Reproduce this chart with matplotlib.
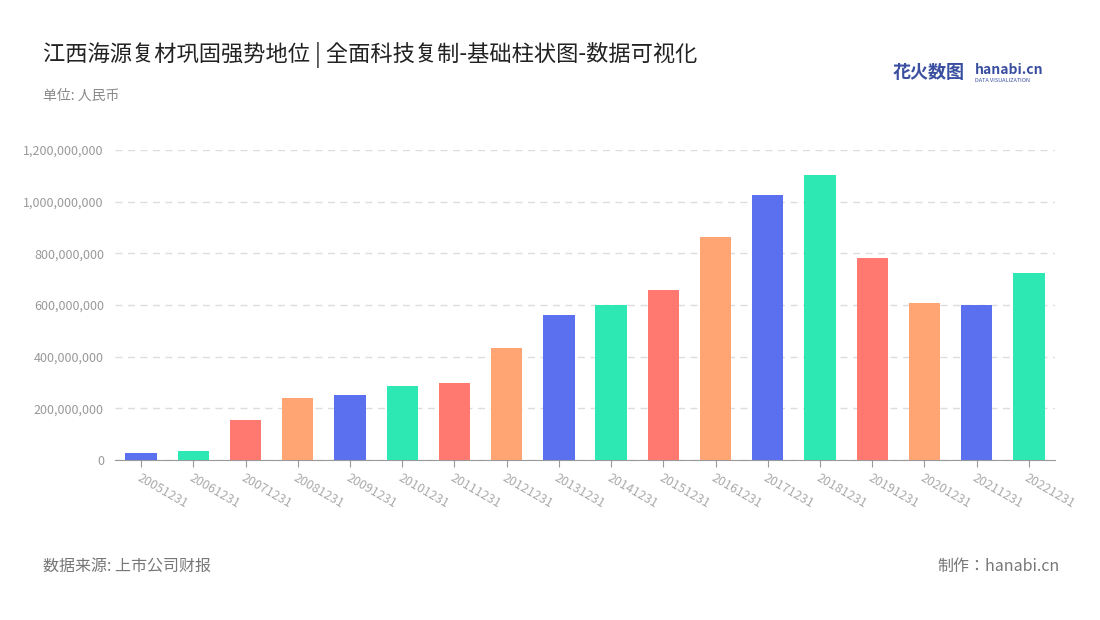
import matplotlib
matplotlib.use("Agg")
import matplotlib.pyplot as plt
from matplotlib import font_manager as fm
from matplotlib.ticker import FuncFormatter

cjk = None
for f in fm.findSystemFonts():
    n = f.lower()
    if "cjk" in n and ("sc" in n or "ttc" in n or "otc" in n):
        try:
            fm.fontManager.addfont(f)
        except Exception:
            pass
names = {e.name for e in fm.fontManager.ttflist}
for cand in ["Noto Sans CJK SC", "Noto Sans CJK JP", "Noto Sans SC", "WenQuanYi Zen Hei"]:
    if cand in names:
        cjk = cand
        break
plt.rcParams["font.family"] = ([cjk] if cjk else []) + ["DejaVu Sans"]

categories = ["20051231","20061231","20071231","20081231","20091231","20101231","20111231",
              "20121231","20131231","20141231","20151231","20161231","20171231","20181231",
              "20191231","20201231","20211231","20221231"]
values = [27e6, 35e6, 155e6, 240e6, 252e6, 287e6, 300e6, 433e6, 562e6, 600e6, 658e6,
          865e6, 1027e6, 1105e6, 782e6, 608e6, 600e6, 724e6]
palette = ["#5B70EE", "#2DE8B2", "#FF7971", "#FFA574"]

fig = plt.figure(figsize=(11, 6.2), dpi=100)
ax = fig.add_axes([115/1100, 1-460/620, 940/1100, 310/620])
x = list(range(len(categories)))
ax.bar(x, values, width=0.6, color=[palette[i % 4] for i in x], zorder=3)
ax.set_xlim(-0.5, len(categories)-0.5)
ax.set_ylim(0, 1.2e9)
ax.set_yticks([i*2e8 for i in range(7)])
ax.yaxis.set_major_formatter(FuncFormatter(lambda v, p: f"{int(v):,}"))
ax.grid(axis="y", color="#dddddd", linestyle=(0, (5, 4)), linewidth=1, zorder=0)
for s in ["top", "right", "left"]:
    ax.spines[s].set_visible(False)
ax.spines["bottom"].set_color("#999999")
ax.set_xticks(x)
ax.set_xticklabels(categories, rotation=-30, ha="left", rotation_mode="anchor")
ax.tick_params(axis="x", colors="#999999", labelcolor="#aaaaaa", labelsize=9, length=5)
ax.tick_params(axis="y", length=0, labelcolor="#999999", labelsize=9, pad=8)

fig.text(43/1100, 1-55/620, "江西海源复材巩固强势地位 | 全面科技复制-基础柱状图-数据可视化",
         fontsize=16, color="#222222", va="center")
fig.text(43/1100, 1-96/620, "单位: 人民币", fontsize=10, color="#888888", va="center")
fig.text(43/1100, 1-566/620, "数据来源: 上市公司财报", fontsize=11.5, color="#777777", va="center")
fig.text(1060/1100, 1-566/620, "制作：hanabi.cn", fontsize=11.5, color="#777777", va="center", ha="right")
fig.text(893/1100, 1-72/620, "花火数图", fontsize=13, color="#3a4fa0", va="center", weight="bold")
fig.text(975/1100, 1-70/620, "hanabi.cn", fontsize=10, color="#3a4fa0", va="center", weight="bold")
fig.text(975/1100, 1-81/620, "DATA VISUALIZATION", fontsize=4, color="#3a4fa0", va="center")

fig.savefig("out.png", dpi=100)
